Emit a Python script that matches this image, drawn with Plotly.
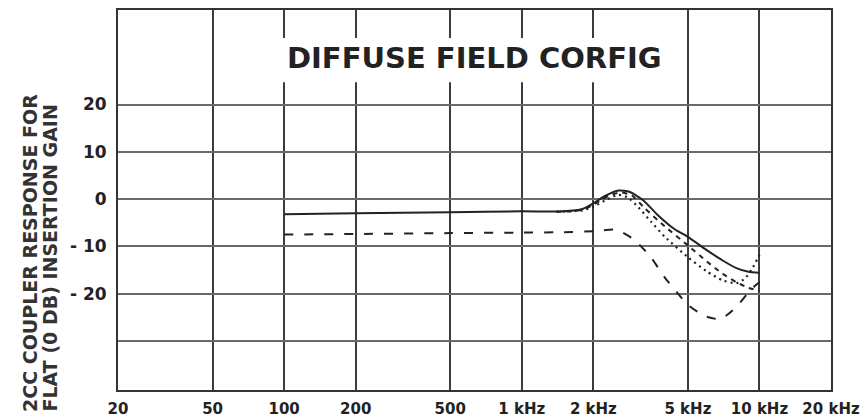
import plotly.graph_objects as go

# ---- data -------------------------------------------------------------
x_ticks = [20, 50, 100, 200, 500, 1000, 2000, 5000, 10000, 20000]
x_labels = ["20", "50", "100", "200", "500", "1 kHz", "2 kHz", "5 kHz", "10 kHz", "20 kHz"]
y_ticks = [-30, -20, -10, 0, 10, 20]
y_labels = ["", "- 20", "- 10", "0", "10", "20"]

solid_f = [100, 200, 500, 1000, 1500, 1800, 2000, 2250, 2550, 2850, 3250, 3700,
           4400, 5000, 6000, 7000, 8000, 9000, 10000]
solid_db = [-3.2, -3.0, -2.8, -2.6, -2.6, -2.1, -0.9, 0.7, 1.8, 1.5, -0.3, -3.2,
            -6.4, -8.0, -10.8, -13.0, -14.6, -15.4, -15.6]

dot_f = [1400, 1800, 2000, 2300, 2550, 2800, 3100, 3500, 4000, 5000, 6000, 7000,
         8000, 8700, 9300, 10000]
dot_db = [-2.7, -2.4, -1.6, 0.0, 0.9, 0.3, -1.8, -4.8, -8.0, -12.3, -15.3, -17.2,
          -17.8, -16.8, -14.8, -11.8]

sdash_f = [1400, 1800, 2000, 2300, 2600, 2900, 3300, 4000, 5000, 6000, 7000, 8000,
           9000, 10000]
sdash_db = [-2.7, -2.3, -1.2, 0.6, 1.4, 0.8, -2.0, -5.8, -9.8, -13.2, -15.8, -17.6,
            -18.8, -19.4]

ldash_f = [100, 200, 500, 1000, 1500, 2000, 2500, 2950, 3480, 3970, 4470, 5000,
           5860, 6860, 8000, 8940, 9660, 10000]
ldash_db = [-7.5, -7.4, -7.2, -7.1, -7.0, -6.8, -6.5, -8.5, -12.2, -16.4, -19.6, -22.4,
            -24.7, -25.4, -22.8, -19.9, -18.2, -17.6]

title_text = "DIFFUSE FIELD CORFIG"
ytitle_1 = "2CC COUPLER RESPONSE FOR"
ytitle_2 = "FLAT (0 DB) INSERTION GAIN"

# ---- figure -----------------------------------------------------------
INK = "#222222"
fig = go.Figure()

def add(fx, fy, dash, width):
    fig.add_trace(go.Scatter(x=fx, y=fy, mode="lines",
                             line=dict(color=INK, width=width, dash=dash, shape="spline", smoothing=0.6),
                             showlegend=False, hoverinfo="skip"))

add(ldash_f, ldash_db, "9px,11px", 2)
add(sdash_f, sdash_db, "5px,5px", 2)
add(dot_f, dot_db, "2px,4px", 2.2)
add(solid_f, solid_db, "solid", 2)

fig.update_layout(
    width=866, height=417,
    margin=dict(l=118, r=35, t=10, b=27),
    paper_bgcolor="white", plot_bgcolor="white",
    showlegend=False,
)

fig.update_xaxes(
    type="log", range=[1.30103, 4.30103],
    tickmode="array", tickvals=x_ticks, ticktext=x_labels,
    showgrid=True, gridcolor="#3c3c3c", gridwidth=2,
    showline=True, linecolor="#333333", linewidth=2, mirror=True,
    ticks="", zeroline=False, automargin=False,
    tickfont=dict(family="DejaVu Sans", size=15, color=INK, weight="bold"),
    ticklabelstandoff=4,
)
fig.update_yaxes(
    range=[-40.4, 40],
    tickmode="array", tickvals=y_ticks, ticktext=y_labels,
    showgrid=True, gridcolor="#6a6a6a", gridwidth=2,
    showline=True, linecolor="#333333", linewidth=2, mirror=True,
    ticks="", zeroline=False, automargin=False,
    tickfont=dict(family="DejaVu Sans", size=17, color=INK, weight="bold"),
    ticklabelstandoff=6,
)

# white box behind the in-plot title
fig.add_shape(type="rect", xref="paper", yref="paper",
              x0=0.21, x1=0.776, y0=0.81, y1=0.926,
              fillcolor="white", line=dict(width=0), layer="above")

fig.add_annotation(text=title_text, xref="paper", yref="paper",
                   x=0.5, y=0.875, xanchor="center", yanchor="middle",
                   showarrow=False,
                   font=dict(family="DejaVu Sans", size=29, color=INK, weight="bold"))

fig.add_annotation(text=ytitle_1, xref="paper", yref="paper",
                   x=(30 - 118) / 713, y=(390 - 414) / 380,
                   xanchor="center", yanchor="bottom", textangle=-90,
                   showarrow=False,
                   font=dict(family="DejaVu Sans", size=19, color="#333333", weight="bold"))
fig.add_annotation(text=ytitle_2, xref="paper", yref="paper",
                   x=(49 - 118) / 713, y=(390 - 414) / 380,
                   xanchor="center", yanchor="bottom", textangle=-90,
                   showarrow=False,
                   font=dict(family="DejaVu Sans", size=19, color="#333333", weight="bold"))

fig.write_html("out.html")
